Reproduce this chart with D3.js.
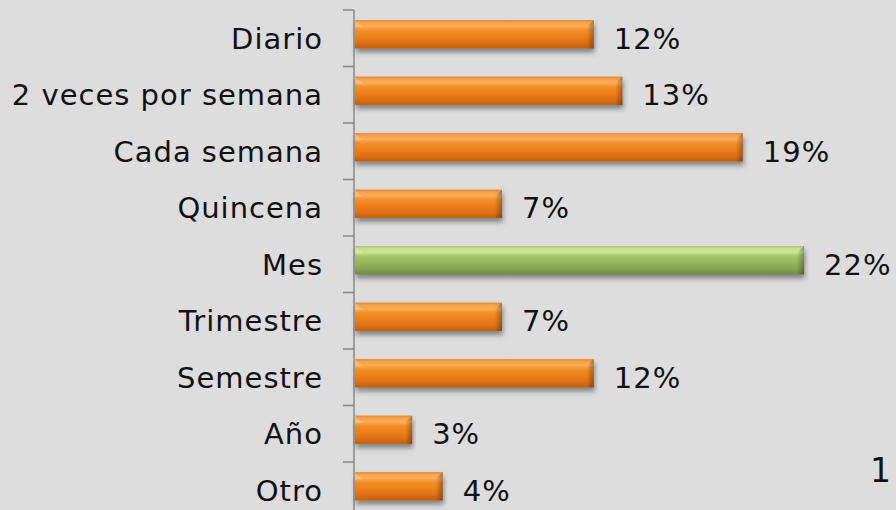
<!DOCTYPE html>
<html>
<head>
<meta charset="utf-8">
<script src="https://cdn.jsdelivr.net/npm/d3@7"></script>
<style>
  html, body { margin: 0; padding: 0; background: #dddddd; }
  svg { display: block; font-family: "DejaVu Sans", Verdana, sans-serif; }
</style>
</head>
<body>
<div class="container"></div>
<script>
const categories = ['Diario', '2 veces por semana', 'Cada semana', 'Quincena', 'Mes', 'Trimestre', 'Semestre', 'Año', 'Otro']
const values = [11.7, 13.1, 19.0, 7.2, 22.0, 7.2, 11.7, 2.8, 4.3]
const highlight = 'Mes'

const W = 896, H = 510

const svg = d3.select('.container').append('svg')
  .attr('width', W)
  .attr('height', H)
  .style('background', '#dddddd')

const defs = svg.append('defs')

function barGradient(id, stops) {
  const g = defs.append('linearGradient')
    .attr('id', id)
    .attr('x1', 0).attr('y1', 0).attr('x2', 0).attr('y2', 1)
  stops.forEach(s => {
    g.append('stop').attr('offset', s[0]).attr('stop-color', s[1])
  })
}

barGradient('orange', [
  [0, '#e8822a'], [0.08, '#f6a04a'], [0.22, '#fbae5a'], [0.35, '#f48f2a'],
  [0.55, '#ee821d'], [0.8, '#de7013'], [1, '#c2600e']
])
barGradient('green', [
  [0, '#a3c26a'], [0.08, '#c4de8e'], [0.22, '#cbe593'], [0.35, '#a7c66a'],
  [0.55, '#9bb95c'], [0.8, '#86a44f'], [1, '#6f8a40']
])

const endGrad = defs.append('linearGradient')
  .attr('id', 'bevel')
  .attr('x1', 0).attr('y1', 0).attr('x2', 1).attr('y2', 0)
endGrad.append('stop').attr('offset', 0).attr('stop-color', '#000').attr('stop-opacity', 0)
endGrad.append('stop').attr('offset', 1).attr('stop-color', '#000').attr('stop-opacity', 0.3)

const shadow = defs.append('filter')
  .attr('id', 'shadow')
  .attr('x', -0.05).attr('y', -0.3).attr('width', 1.1).attr('height', 1.8)
shadow.append('feDropShadow')
  .attr('dx', 1).attr('dy', 4)
  .attr('stdDeviation', 2.5)
  .attr('flood-color', '#444')
  .attr('flood-opacity', 0.6)

const x = d3.scaleLinear()
  .domain([0, 22])
  .range([355, 804])

const y = d3.scaleBand()
  .domain(categories)
  .range([10, 10 + 9 * 56.5])
  .paddingInner(0.5)
  .paddingOuter(0.25)

const step = y.step()
const lift = 4

// axis
const axis = svg.append('g')
axis.append('line')
  .attr('x1', 354).attr('x2', 354)
  .attr('y1', y.range()[0]).attr('y2', y.range()[1])
  .attr('stroke', '#878787')
  .attr('stroke-width', 1.5)

const bounds = categories.map(c => y(c) - step * y.paddingOuter())
bounds.push(y.range()[1])
axis.selectAll('.tick')
  .data(bounds)
  .enter()
  .append('line')
  .attr('x1', 343).attr('x2', 354)
  .attr('y1', d => d).attr('y2', d => d)
  .attr('stroke', '#878787')
  .attr('stroke-width', 1.5)

// bars
const bars = svg.selectAll('.bar')
  .data(categories)
  .enter()
  .append('g')
  .attr('class', 'bar')

bars.append('rect')
  .attr('x', x(0))
  .attr('y', d => y(d) - lift)
  .attr('width', (d, i) => x(values[i]) - x(0))
  .attr('height', y.bandwidth())
  .attr('fill', d => d === highlight ? 'url(#green)' : 'url(#orange)')
  .attr('filter', 'url(#shadow)')

// right end bevel
bars.append('path')
  .attr('d', (d, i) => {
    const x1 = x(values[i]), top = y(d) - lift, bh = y.bandwidth()
    return `M${x1 - 7},${top + 6} L${x1},${top} L${x1},${top + bh} L${x1 - 7},${top + bh} Z`
  })
  .attr('fill', 'url(#bevel)')

// left end highlight
bars.append('path')
  .attr('d', d => {
    const x0 = x(0), top = y(d) - lift
    return `M${x0},${top} L${x0 + 8},${top + 7} L${x0},${top + 7} Z`
  })
  .attr('fill', '#fff')
  .attr('opacity', 0.2)

// category labels
svg.selectAll('.cat')
  .data(categories)
  .enter()
  .append('text')
  .attr('class', 'cat')
  .attr('x', 323)
  .attr('y', d => y(d) + y.bandwidth() / 2)
  .attr('dy', '0.36em')
  .attr('text-anchor', 'end')
  .attr('font-size', 29)
  .attr('letter-spacing', 1)
  .attr('fill', '#111')
  .text(d => d)

// value labels
svg.selectAll('.val')
  .data(categories)
  .enter()
  .append('text')
  .attr('class', 'val')
  .attr('x', (d, i) => x(values[i]) + 20)
  .attr('y', d => y(d) + y.bandwidth() / 2)
  .attr('dy', '0.36em')
  .attr('font-size', 29)
  .attr('letter-spacing', 1)
  .attr('fill', '#111')
  .text((d, i) => Math.round(values[i]) + '%')

// page number fragment at the right edge
svg.append('text')
  .attr('x', 870)
  .attr('y', 482)
  .attr('font-size', 33)
  .attr('fill', '#111')
  .text('1')
</script>
</body>
</html>
